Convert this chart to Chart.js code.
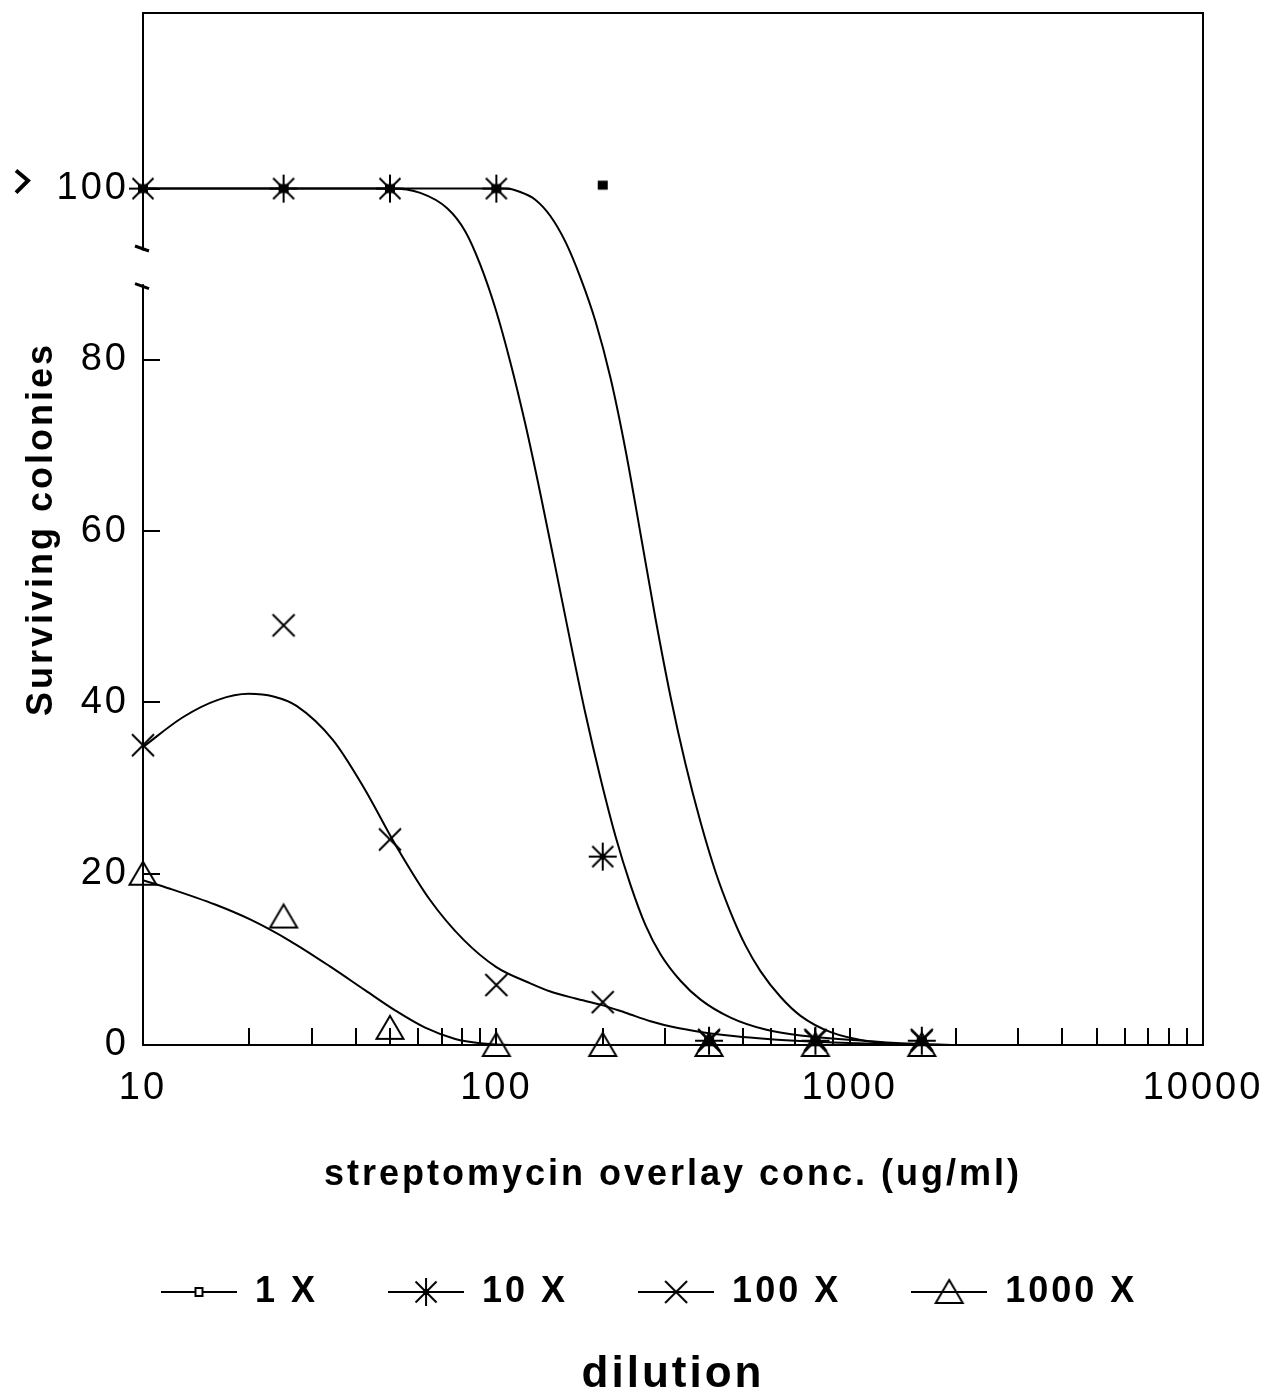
<!DOCTYPE html>
<html>
<head>
<meta charset="utf-8">
<script src="https://cdn.jsdelivr.net/npm/chart.js@4.4.1/dist/chart.umd.min.js"></script>
<style>
  html, body { margin: 0; padding: 0; background: #fff; }
  canvas { display: block; }
</style>
</head>
<body>
<canvas id="grafica" width="1267" height="1397" style="width:1267px;height:1397px"></canvas>
<script>
// puntos medidos (ug/ml)
const conc = [10, 25, 50, 100, 200, 400, 800, 1600];
const surv1x = [100, 100, 100, 100, 100.4, 0.4, 0.4, 0.4];
const surv10x = [100, 100, 100, 100, 22, 0.5, 0.5, 0.5];
const surv100x = [35, 49, 24, 7, 5, 0.6, 0.6, 0.6];
const surv1000x = [20, 15, 2, 0, 0, 0, 0, 0];

// curvas ajustadas
const fit1xConc = [10, 50, 100, 106.1, 116.9, 128.9, 142.2, 156.8, 173, 190.8, 210.4, 232, 255.9, 282.1, 311.1, 343.1, 378.5, 417.3, 460.2, 507.5, 559.7, 637.7, 726.3, 883.5, 1147, 1589];
const fit1xVal = [100, 100, 100, 100, 99.6, 98.7, 96.8, 93.8, 89.6, 84.5, 77.9, 69.5, 59.7, 49.8, 40.7, 32.8, 26.0, 20.2, 15.5, 11.6, 8.6, 5.6, 3.4, 1.5, 0.4, 0];

const fit10xConc = [10, 25, 50, 60.9, 72.6, 81.7, 90.1, 99.4, 109.6, 120.8, 133.2, 146.9, 162, 178.7, 197, 217.3, 239.7, 264.3, 291.5, 332, 378.5, 460.2, 578.1, 726.3, 1006, 1395, 2000];
const fit10xVal = [100, 100, 100, 99.5, 97.7, 95.0, 91.1, 86.0, 79.7, 72.5, 64.4, 55.8, 47.1, 38.7, 31.2, 24.4, 18.7, 14.0, 10.6, 7.5, 5.3, 3.2, 1.8, 1.1, 0.6, 0.2, 0];

const fit100xConc = [10, 13, 16.3, 19.9, 23.4, 27.2, 34.5, 42.1, 52.3, 65, 80.7, 100, 124.8, 142.2, 167.4, 197, 232, 273.1, 321.4, 378.5, 475.3, 585.8, 726.3, 900.7, 1224, 1932];
const fit100xVal = [34.8, 38.3, 40.3, 41.0, 40.7, 39.6, 35.6, 30.1, 23.1, 16.9, 12.3, 9.1, 7.2, 6.25, 5.43, 4.71, 3.77, 2.78, 2.04, 1.53, 1.02, 0.70, 0.47, 0.29, 0.12, 0];

const fit1000xConc = [10, 11.93, 16, 20.1, 26.1, 33.9, 42.6, 51.7, 62.9, 76.5, 90.1, 109.6, 200];
const fit1000xVal = [19.25, 18.25, 16.4, 14.66, 12.14, 9.15, 6.37, 4.04, 2.02, 0.70, 0.20, 0, 0];

const dilutions = ["1 X", "10 X", "100 X", "1000 X"];
const xTickLabels = [10, 100, 1000, 10000];
const xMinorTicks = [20, 30, 40, 50, 60, 70, 80, 90, 200, 300, 400, 500, 600, 700, 800, 900,
  2000, 3000, 4000, 5000, 6000, 7000, 8000, 9000];
const yTickLabels = [0, 20, 40, 60, 80, 100];

Chart.defaults.font.family = "'Liberation Sans', Arial, sans-serif";
Chart.defaults.color = "#000";

// marcadores dibujados a mano
function marcador(tipo, conLinea) {
  const w = conLinea ? 76 : 32, h = 32;
  const c = document.createElement("canvas");
  c.width = w; c.height = h;
  const g = c.getContext("2d");
  const cx = w / 2, cy = h / 2;
  g.strokeStyle = "#000";
  g.fillStyle = "#000";
  g.lineWidth = 2;
  if (conLinea) {
    g.beginPath(); g.moveTo(0, cy); g.lineTo(w, cy); g.stroke();
  }
  g.beginPath();
  if (tipo === "square") {
    if (conLinea) {
      g.fillStyle = "#fff";
      g.fillRect(cx - 4, cy - 4.5, 8, 9);
      g.strokeRect(cx - 3.5, cy - 4, 7, 8);
    } else {
      g.fillRect(cx - 5, cy - 4.5, 10, 9);
    }
  } else if (tipo === "star") {
    g.moveTo(cx, cy - 14); g.lineTo(cx, cy + 14);
    g.moveTo(cx - 14, cy); g.lineTo(cx + 14, cy);
    g.moveTo(cx - 10.5, cy - 10.5); g.lineTo(cx + 10.5, cy + 10.5);
    g.moveTo(cx + 10.5, cy - 10.5); g.lineTo(cx - 10.5, cy + 10.5);
    g.stroke();
    g.fillRect(cx - 3, cy - 3, 6, 6);
  } else if (tipo === "cross") {
    g.moveTo(cx - 11, cy - 11); g.lineTo(cx + 11, cy + 11);
    g.moveTo(cx + 11, cy - 11); g.lineTo(cx - 11, cy + 11);
    g.stroke();
  } else {
    g.moveTo(cx, cy - 12); g.lineTo(cx + 13.5, cy + 11); g.lineTo(cx - 13.5, cy + 11);
    g.closePath();
    g.stroke();
  }
  return c;
}

const tipos = ["square", "star", "cross", "triangle"];
const iconos = tipos.map(t => marcador(t, false));
const iconosLeyenda = tipos.map(t => marcador(t, true));

const puntos = [surv1x, surv10x, surv100x, surv1000x].map((serie, i) => ({
  label: dilutions[i],
  data: conc.map((x, j) => ({ x, y: serie[j] })),
  showLine: false,
  pointStyle: iconos[i],
  pointRadius: 12,
  clip: false
}));

const curvas = [[fit1xConc, fit1xVal], [fit10xConc, fit10xVal], [fit100xConc, fit100xVal], [fit1000xConc, fit1000xVal]]
  .map(([xs, ys]) => ({
    data: xs.map((x, j) => ({ x, y: ys[j] })),
    showLine: true,
    borderColor: "#000",
    borderWidth: 2,
    pointRadius: 0,
    cubicInterpolationMode: "monotone"
  }));

// marco, corte del eje y signo ">"
const marco = {
  id: "marco",
  beforeUpdate(chart) { chart.ctx.letterSpacing = "3px"; },
  beforeDraw(chart) { chart.ctx.letterSpacing = "3px"; },
  afterDraw(chart) {
    const { ctx, chartArea: a, scales: { y } } = chart;
    ctx.save();
    ctx.strokeStyle = "#000";
    ctx.lineWidth = 2;
    ctx.beginPath();
    ctx.moveTo(a.left, a.top);
    ctx.lineTo(a.right, a.top);
    ctx.lineTo(a.right, a.bottom);
    ctx.stroke();

    const y1 = y.getPixelForValue(93), y2 = y.getPixelForValue(88.6);
    ctx.fillStyle = "#fff";
    ctx.fillRect(a.left - 3, y1 + 2, 6, y2 - y1 - 4);
    ctx.lineWidth = 3;
    ctx.beginPath();
    ctx.moveTo(a.left - 8, y1 - 2.5); ctx.lineTo(a.left + 6, y1 + 2.5);
    ctx.moveTo(a.left - 8, y2 - 2.5); ctx.lineTo(a.left + 6, y2 + 2.5);
    ctx.stroke();

    // ">" delante del 100
    const y100 = y.getPixelForValue(100) - 7;
    ctx.lineWidth = 4;
    ctx.beginPath();
    ctx.moveTo(16, y100 - 11);
    ctx.lineTo(28, y100 - 1);
    ctx.lineTo(16, y100 + 11);
    ctx.stroke();
    ctx.restore();
  }
};

const grafica = new Chart(document.getElementById("grafica"), {
  type: "scatter",
  data: { datasets: puntos.concat(curvas) },
  options: {
    responsive: false,
    maintainAspectRatio: false,
    animation: false,
    layout: { padding: { top: 12, right: 64, bottom: 0, left: 0 } },
    scales: {
      x: {
        type: "logarithmic",
        position: "bottom",
        min: 10,
        max: 10000,
        afterBuildTicks: s => {
          s.ticks = xTickLabels.concat(xMinorTicks).sort((a, b) => a - b).map(v => ({ value: v }));
        },
        afterFit: s => { s.height = 211; s.paddingLeft = 0; s.paddingRight = 0; },
        ticks: {
          autoSkip: false, maxRotation: 0, minRotation: 0, padding: 38,
          font: { size: 38 },
          callback: v => xTickLabels.includes(v) ? String(v) : ""
        },
        grid: { display: true, drawOnChartArea: false, drawTicks: true, tickLength: -17, color: "#000", lineWidth: 2 },
        border: { display: true, color: "#000", width: 2 },
        title: {
          display: true,
          text: "streptomycin overlay conc. (ug/ml)",
          font: { size: 36, weight: "bold" },
          padding: { top: 0, bottom: 59 }
        }
      },
      y: {
        type: "linear",
        position: "left",
        min: 0,
        max: 120.5,
        afterBuildTicks: s => { s.ticks = yTickLabels.map(v => ({ value: v })); },
        afterFit: s => { s.width = 143; s.paddingTop = 0; s.paddingBottom = 0; },
        ticks: { padding: 31, font: { size: 38 }, callback: v => String(v) },
        grid: { display: true, drawOnChartArea: false, drawTicks: true, tickLength: -17, color: "#000", lineWidth: 2 },
        border: { display: true, color: "#000", width: 2 },
        title: {
          display: true,
          text: "Surviving colonies",
          font: { size: 36, weight: "bold" },
          padding: { top: 20, bottom: 0 }
        }
      }
    },
    plugins: {
      tooltip: { enabled: false },
      legend: {
        position: "bottom",
        align: "start",
        fullSize: false,
        labels: {
          usePointStyle: true,
          pointStyleWidth: 76,
          padding: 18,
          font: { size: 36, weight: "bold" },
          generateLabels: () => dilutions.map((d, i) => ({
            text: i < dilutions.length - 1 ? d + "    " : d,
            pointStyle: iconosLeyenda[i],
            fillStyle: "#000",
            strokeStyle: "#000",
            fontColor: "#000",
            lineWidth: 0,
            hidden: false,
            datasetIndex: i
          }))
        }
      },
      title: {
        display: true,
        text: "dilution",
        position: "bottom",
        fullSize: false,
        font: { size: 44, weight: "bold", lineHeight: 1.0 },
        padding: { top: 33, bottom: 0 }
      }
    }
  },
  plugins: [marco]
});
</script>
</body>
</html>
